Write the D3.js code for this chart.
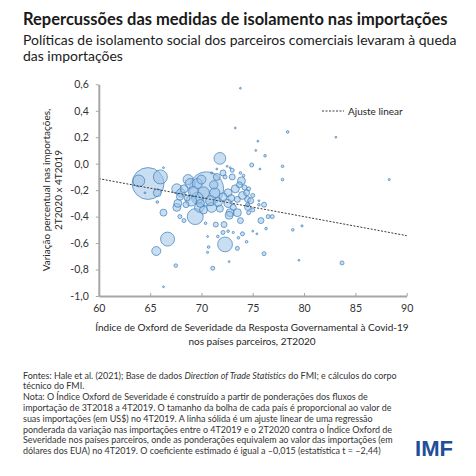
<!DOCTYPE html>
<html lang="pt">
<head>
<meta charset="UTF-8">
<title>Repercussões das medidas de isolamento nas importações</title>
<script src="https://d3js.org/d3.v7.min.js"></script>
<style>
  body, html { margin: 0; padding: 0; background: #fff; }
  svg { display: block; font-family: Lato, "Open Sans", sans-serif; }
</style>
</head>
<body>
<script>
// severity index (x), change in imports (y), import value (bubble area, relative)
const severity = [64.8,70.5,63.9,66.0,71.8,69.4,66.7,65.6,72.3,67.5,71.1,66.3,72.7,73.5,72.8,66.3,67.6,65.7,67.6,68.7,
  73.8,73.3,78.4,83.1,88.3,75.5,75.3,76.2,74.9,75.7,77.9,77.9,76.1,79.5,83.7,78.9,79.8,76.3,75.0,75.4,
  74.0,75.8,76.5,76.9,76.1,74.6,74.5,72.7,72.2,71.4,68.3,70.4,72.1,72.6,73.1,73.6,71.6,70.6,70.7,70.6,
  73.0,72.1,73.8,73.0,73.9,73.7,73.3,74.2,72.6,74.0,73.5,74.5,74.5,73.1,68.9,69.6,70.2,71.3,71.0,72.1,
  67.7,70.2,71.8,73.5,71.5,67.9,68.6,69.6,69.2,70.9,69.9,68.3,68.5,72.5,71.0,74.6,74.1,75.0,74.8,75.6,
  75.6,75.0,73.8,74.4,66.3,64.5,65.7,72.3,72.8,71.5,67.9,74.4,
  69.0,71.6,70.0,72.6,68.0,71.2,72.9,69.8];
const importChange = [-0.15,-0.19,-0.13,-0.10,0.04,-0.40,-0.57,-0.66,-0.61,-0.77,-0.79,-0.93,-0.74,-0.64,-0.37,-0.37,-0.33,-0.22,-0.19,-0.12,
  0.57,0.27,0.24,0.20,-0.12,0.17,0.10,0.06,-0.01,-0.04,-0.02,-0.12,-0.68,-0.73,-0.75,-0.50,-0.47,-0.49,-0.51,-0.53,
  -0.53,-0.43,-0.40,-0.40,-0.31,-0.37,-0.31,-0.39,-0.46,-0.46,-0.43,-0.45,-0.52,-0.51,-0.52,-0.56,-0.55,-0.55,-0.63,-0.67,
  -0.05,-0.07,-0.07,-0.10,-0.13,-0.16,-0.19,-0.18,-0.22,-0.24,-0.27,-0.27,-0.33,-0.33,-0.15,-0.15,-0.22,-0.22,-0.33,-0.25,
  -0.30,-0.35,-0.34,-0.37,-0.10,-0.25,-0.26,-0.26,-0.21,-0.28,-0.30,-0.19,-0.31,-0.02,-0.07,-0.19,-0.09,-0.24,-0.28,-0.28,
  -0.31,-0.35,-0.43,-0.22,-0.03,-0.22,-0.29,-0.10,-0.03,-0.04,-0.40,-0.59,
  -0.28,-0.29,-0.12,-0.30,-0.22,-0.16,-0.26,-0.33];
const importValue = [88,100,12,17,12,22,17,7,19,1.1,1.4,0.3,0.3,1.4,5.5,4.2,5.5,5.5,8.7,8.7,
  0.3,0.3,0.6,0.3,0.4,0.3,0.3,0.6,1.4,0.3,0.6,0.6,1.4,0.3,1.4,0.6,0.4,0.6,0.3,0.3,
  1.4,3.1,1.4,1.4,2.2,1.4,1.4,5.5,3.1,2.2,1.4,0.6,1.4,0.6,0.4,0.6,0.6,0.3,0.6,0.4,
  1.4,3.1,0.6,3.1,5.5,3.1,5.5,2.2,5.5,5.5,3.1,3.1,3.1,3.1,8.7,8.7,12,8.7,8.7,5.5,
  5.5,5.5,4.2,5.5,4.2,4.2,3.1,12,8.7,8.7,5.5,5.5,3.1,0.3,0.4,1.4,0.6,1.4,3.1,0.3,
  0.6,1.4,3.1,3.1,0.3,0.3,0.6,1.4,0.3,0.3,1.4,0.6,
  10,7,7,6,6,6,4.2,8];

// linear fit (weighted regression), endpoints
const fitX = [60, 90];
const fitY = [-0.113, -0.544];

const xTicks = [60, 65, 70, 75, 80, 85, 90];
const yTicks = [-1.0, -0.8, -0.6, -0.4, -0.2, 0.0, 0.2, 0.4, 0.6];

const title = "Repercussões das medidas de isolamento nas importações";
const subtitle = ["Políticas de isolamento social dos parceiros comerciais levaram à queda",
                  "das importações"];
const yTitle = ["Variação percentual nas importações,", "2T2020 x 4T2019"];
const xTitle = ["Índice de Oxford de Severidade da Resposta Governamental à Covid-19",
                "nos países parceiros, 2T2020"];
const notes = [
  [["Fontes: Hale et al. (2021); Base de dados ", false], ["Direction of Trade Statistics", true], [" do FMI; e cálculos do corpo", false]],
  [["técnico do FMI.", false]],
  [["Nota: O Índice Oxford de Severidade é construído a partir de ponderações dos fluxos de", false]],
  [["importação de 3T2018 a 4T2019. O tamanho da bolha de cada país é proporcional ao valor de", false]],
  [["suas importações (em US$) no 4T2019. A linha sólida é um ajuste linear de uma regressão", false]],
  [["ponderada da variação nas importações entre o 4T2019 e o 2T2020 contra o Índice Oxford de", false]],
  [["Severidade nos países parceiros, onde as ponderações equivalem ao valor das importações (em", false]],
  [["dólares dos EUA) no 4T2019. O coeficiente estimado é igual a –0,015 (estatística t = –2,44)", false]]
];

const W = 476, H = 476;
const svg = d3.select("body").append("svg").attr("width", W).attr("height", H)
  .attr("fill", "#262626");

// scale a text element's font size so it spans the target width
function fit(sel, target) {
  const w = sel.node().getComputedTextLength();
  const fs = parseFloat(sel.attr("font-size"));
  sel.attr("font-size", fs * target / w);
  return fs * target / w;
}

// titles
fit(svg.append("text").attr("x", 23).attr("y", 25).attr("font-size", 17)
  .attr("font-weight", "bold").attr("fill", "#1a1a1a").text(title), 425);
const sub1 = svg.append("text").attr("x", 23).attr("y", 45).attr("font-size", 15)
  .attr("fill", "#1a1a1a").text(subtitle[0]);
const subFs = fit(sub1, 434);
svg.append("text").attr("x", 23).attr("y", 61).attr("font-size", subFs)
  .attr("fill", "#1a1a1a").text(subtitle[1]);

// plot
const x = d3.scaleLinear().domain([60, 90]).range([98.8, 406.7]);
const y = d3.scaleLinear().domain([-1.0, 0.6]).range([296, 84.3]);
const r = d3.scaleSqrt().domain([0, 100]).range([0, 17]);
const fmt = d => d3.format(".1f")(d).replace(".", ",").replace("−", "-");

const data = severity.map((s, i) => ({ s, c: importChange[i], v: importValue[i] }))
  .sort((a, b) => b.v - a.v);

svg.append("g").selectAll("circle").data(data).join("circle")
  .attr("cx", d => x(d.s)).attr("cy", d => y(d.c)).attr("r", d => r(d.v))
  .attr("fill", "#9dc3e6").attr("fill-opacity", 0.55)
  .attr("stroke", "#2e75b6").attr("stroke-opacity", 0.8).attr("stroke-width", 0.8);

// fit line
svg.append("line")
  .attr("x1", x(fitX[0])).attr("y1", y(fitY[0]))
  .attr("x2", x(fitX[1])).attr("y2", y(fitY[1]))
  .attr("stroke", "#3a3a3a").attr("stroke-width", 1).attr("stroke-dasharray", "2,1.5");

// axes
const xAxis = svg.append("g").attr("transform", `translate(0,${y(-1.0)})`)
  .call(d3.axisBottom(x).tickValues(xTicks).tickSize(-3).tickPadding(9).tickSizeOuter(0).tickFormat(d3.format("d")));
const yAxis = svg.append("g").attr("transform", `translate(${x(60)},0)`)
  .call(d3.axisLeft(y).tickValues(yTicks).tickSize(3).tickPadding(7).tickSizeOuter(0).tickFormat(fmt));
[xAxis, yAxis].forEach(a => {
  a.select(".domain").attr("stroke", "#a6a6a6").attr("stroke-width", 2);
  a.selectAll(".tick line").attr("stroke", "#a6a6a6").attr("stroke-width", 1);
  a.selectAll(".tick text").attr("font-family", "Lato, sans-serif").attr("font-size", 10.5).attr("fill", "#333");
});

// axis titles
yTitle.forEach((t, i) => {
  svg.append("text").attr("transform", `translate(${49.5 + i * 12},190) rotate(-90)`)
    .attr("text-anchor", "middle").attr("font-size", 10).text(t);
});
xTitle.forEach((t, i) => {
  svg.append("text").attr("x", 252).attr("y", 331 + i * 14)
    .attr("text-anchor", "middle").attr("font-size", 10).text(t);
});

// legend
svg.append("line").attr("x1", 322).attr("x2", 344).attr("y1", 111).attr("y2", 111)
  .attr("stroke", "#3a3a3a").attr("stroke-width", 1).attr("stroke-dasharray", "2,1.5");
svg.append("text").attr("x", 348).attr("y", 114.5).attr("font-size", 10).text("Ajuste linear");

// notes
let noteFs = null;
notes.forEach((parts, i) => {
  const t = svg.append("text").attr("x", 23).attr("y", 378.5 + i * 10.8)
    .attr("font-size", noteFs || 9.5).attr("fill", "#333");
  parts.forEach(p => t.append("tspan").attr("font-style", p[1] ? "italic" : null).text(p[0]));
  if (i === 0) noteFs = fit(t, 374);
});

// logo
fit(svg.append("text").attr("x", 415).attr("y", 456).attr("font-size", 18)
  .attr("font-family", "Liberation Sans, Arial, sans-serif").attr("font-weight", "bold")
  .attr("fill", "#1f4e9a").text("IMF"), 38);
</script>
</body>
</html>
